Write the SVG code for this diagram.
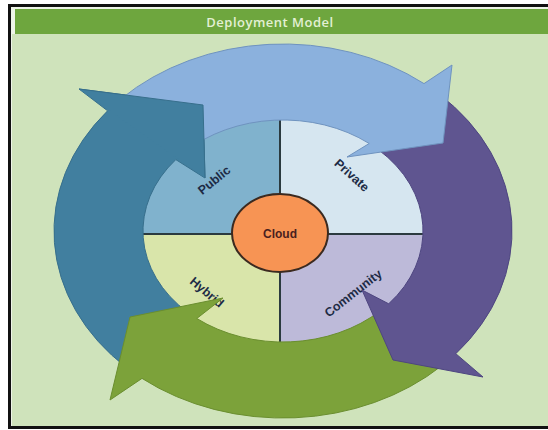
<svg xmlns="http://www.w3.org/2000/svg" width="548" height="430" viewBox="0 0 548 430">
  <defs>
    <clipPath id="pieClip">
      <ellipse cx="283" cy="230" rx="146" ry="117"/>
    </clipPath>
    <style>
      .lbl { font-family: "Liberation Sans", Arial, sans-serif; font-weight: bold; font-size: 12.5px; fill: #1d2b45; text-anchor: middle; }
      .arrow { stroke-width: 1; stroke-linejoin: miter; }
      .div { stroke: #2b3a3f; stroke-width: 2; fill: none; }
    </style>
  </defs>

  <!-- frame and background -->
  <rect x="0" y="0" width="548" height="430" fill="#ffffff"/>
  <rect x="9.5" y="5.5" width="560" height="422" fill="#eef4e8" stroke="#111111" stroke-width="3"/>
  <rect x="12" y="34" width="540" height="392" fill="#cfe3bb"/>

  <g id="header">
    <rect x="15" y="9" width="535" height="25" fill="#6ea63e"/>
    <text x="270" y="27" font-family="'Open Sans', 'Liberation Sans', sans-serif" font-size="13" font-weight="600" letter-spacing="0.5" fill="#e3f0d4" text-anchor="middle">Deployment Model</text>
  </g>

  <!-- pie quadrants -->
  <g id="public">
    <rect x="130" y="100" width="150" height="134" fill="#80b2cd" clip-path="url(#pieClip)"/>
    <text class="lbl" transform="translate(214,180) rotate(-39)" x="0" y="4.5">Public</text>
  </g>
  <g id="private">
    <rect x="280" y="100" width="160" height="134" fill="#d6e6f0" clip-path="url(#pieClip)"/>
    <text class="lbl" transform="translate(352,175) rotate(42)" x="0" y="4.5">Private</text>
  </g>
  <g id="hybrid">
    <rect x="130" y="234" width="150" height="120" fill="#d9e5aa" clip-path="url(#pieClip)"/>
    <text class="lbl" transform="translate(207,292) rotate(40)" x="0" y="4.5">Hybrid</text>
  </g>
  <g id="community">
    <rect x="280" y="234" width="160" height="120" fill="#bdbad9" clip-path="url(#pieClip)"/>
    <text class="lbl" transform="translate(353,293) rotate(-38)" x="0" y="4.5">Community</text>
  </g>
  <g id="dividers" clip-path="url(#pieClip)">
    <line class="div" x1="280" y1="100" x2="280" y2="360"/>
    <line class="div" x1="130" y1="234" x2="440" y2="234"/>
  </g>

  <!-- circular arrows -->
  <g id="connectors">
    <path id="arrow-teal" class="arrow" fill="#417f9f" stroke="#376f8c"
      d="M126.8,367.8 A229,187 0 0 1 107.6,110.8 L79,89 L203,105 L205,178 L175.8,159.6 A140,111 0 0 0 187.5,312.2 Z"/>
    <path id="arrow-green" class="arrow" fill="#7ca23a" stroke="#6a8e2f"
      d="M442.1,365.5 A229,187 0 0 1 142,378.4 L110,400 L130,317 L223,298 L196.8,318.5 A140,111 0 0 0 380.3,310.8 Z"/>
    <path id="arrow-purple" class="arrow" fill="#5f5590" stroke="#4e4680"
      d="M439.2,94.2 A229,187 0 0 1 455.8,353.7 L483,377 L393,360 L362,290 L388.7,303.8 A140,111 0 0 0 378.5,149.8 Z"/>
    <path id="arrow-lightblue" class="arrow" fill="#8bb1dd" stroke="#6f93bf"
      d="M121.1,98.8 A229,187 0 0 1 424,83.6 L452,65 L443,143 L347,157 L369.2,143.5 A140,111 0 0 0 184,152.5 Z"/>
    <!-- teal arrow head lies over the light blue tail -->
    <path id="arrow-teal-head" class="arrow" fill="#417f9f" stroke="#376f8c"
      d="M79,89 L203,105 L205,178"/>
  </g>

  <g id="cloud">
    <ellipse cx="280" cy="233" rx="48" ry="39" fill="#f79454" stroke="#3b2a20" stroke-width="2"/>
    <text x="280" y="238" font-family="'Liberation Sans', Arial, sans-serif" font-size="12" font-weight="bold" fill="#4a1e1e" text-anchor="middle">Cloud</text>
  </g>
</svg>
